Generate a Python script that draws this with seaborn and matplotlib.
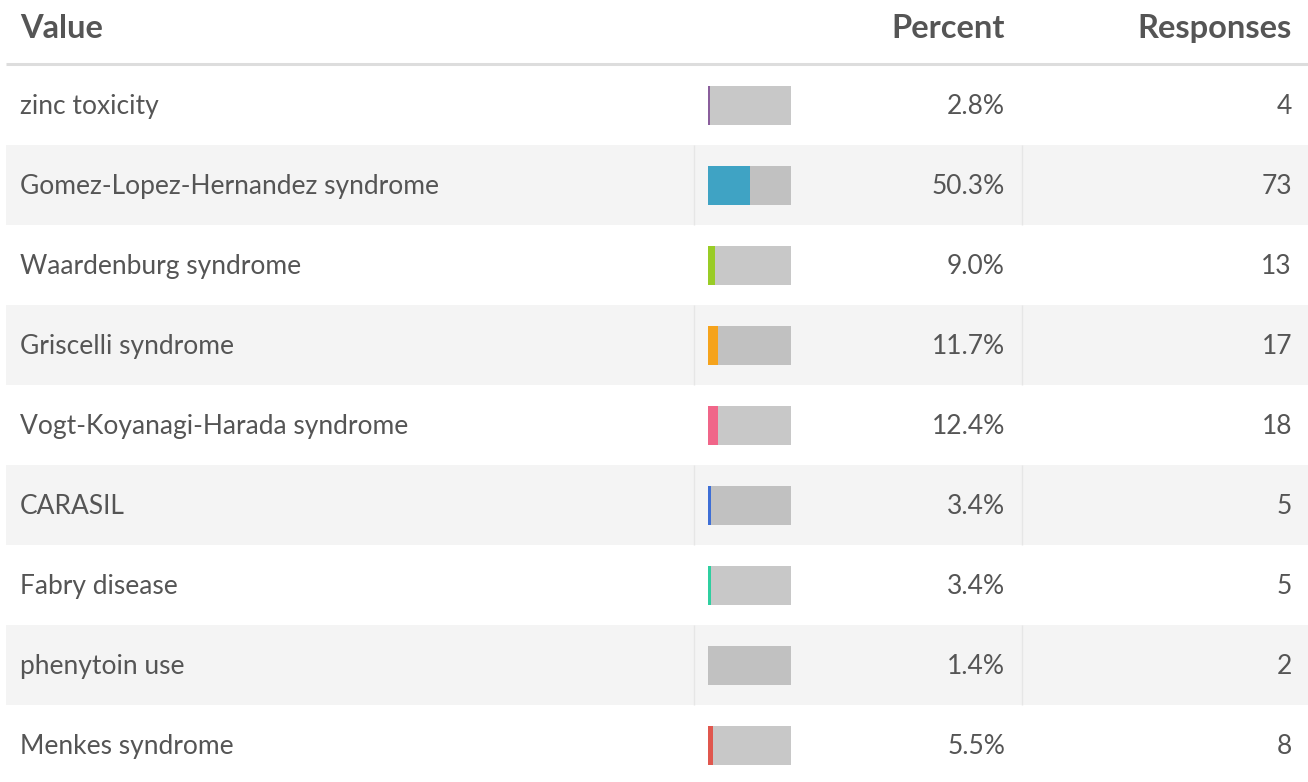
import matplotlib
matplotlib.use('Agg')
import matplotlib.pyplot as plt
import seaborn as sns
import pandas as pd

categories = ["zinc toxicity", "Gomez-Lopez-Hernandez syndrome", "Waardenburg syndrome",
              "Griscelli syndrome", "Vogt-Koyanagi-Harada syndrome", "CARASIL",
              "Fabry disease", "phenytoin use", "Menkes syndrome"]
percents = [2.8, 50.3, 9.0, 11.7, 12.4, 3.4, 3.4, 1.4, 5.5]
responses = [4, 73, 13, 17, 18, 5, 5, 2, 8]
colors = ["#8a5e9c", "#3fa3c4", "#99cc26", "#f5a31c", "#f06689",
          "#3e6fd6", "#2fcfa0", "#c0c0c0", "#e0574e"]
headers = ["Value", "Percent", "Responses"]

sns.set_theme(style="white")
plt.rcParams['font.family'] = ['Lato', 'DejaVu Sans']

W, H = 1308, 782
fig = plt.figure(figsize=(W / 100, H / 100), dpi=100)
ax = fig.add_axes([0, 0, 1, 1])
n = len(categories)
row_h = 80.0
top = 65.0
y_top = -0.5 - top / row_h
y_bot = -0.5 + (H - top) / row_h
ax.set_xlim(0, W)
ax.set_ylim(y_bot, y_top)
ax.axis('off')

text_col = '#555555'
for i in range(n):
    if i % 2 == 1:
        ax.axhspan(i - 0.5, i + 0.5, xmin=6 / W, xmax=1, color='#f4f4f4', lw=0, zorder=0)
        ax.vlines([694, 1022], i - 0.5, i + 0.5, color='#e6e6e6', lw=1, zorder=1)

# header separator
ax.hlines(-0.5 - 1.5 / row_h, 6, W, color='#dddddd', lw=2.2, zorder=2)

# headers
y_head = -0.5 - (top - 38) / row_h
hfs = 23.5
ax.text(20, y_head, headers[0], ha='left', va='baseline', fontsize=hfs, fontweight='bold', color=text_col)
ax.text(1005, y_head, headers[1], ha='right', va='baseline', fontsize=hfs, fontweight='bold', color=text_col)
ax.text(1292, y_head, headers[2], ha='right', va='baseline', fontsize=hfs, fontweight='bold', color=text_col)

fs = 19
off = 9.0 / row_h
for i, (c, p, r) in enumerate(zip(categories, percents, responses)):
    ax.text(20, i + off, c, ha='left', va='baseline', fontsize=fs, color=text_col)
    ax.text(1005, i + off, f"{p:.1f}%", ha='right', va='baseline', fontsize=fs, color=text_col)
    ax.text(1292, i + off, f"{r}", ha='right', va='baseline', fontsize=fs, color=text_col)

# bars
bax = fig.add_axes([708 / W, 0, 83 / W, 1])
df = pd.DataFrame({'cat': categories, 'pct': percents, 'full': [100] * n})
sns.barplot(data=df, x='full', y='cat', color='#686868', alpha=0.36, width=39 / 80,
            saturation=1, ax=bax, errorbar=None, linewidth=0, edgecolor='none')
sns.barplot(data=df, x='pct', y='cat', hue='cat', palette=colors, width=39 / 80,
            saturation=1, ax=bax, legend=False, errorbar=None, linewidth=0, edgecolor='none')
bax.set_xlim(0, 100)
bax.set_ylim(y_bot, y_top)
bax.axis('off')
bax.patch.set_alpha(0)

fig.savefig('out.png', dpi=100)
